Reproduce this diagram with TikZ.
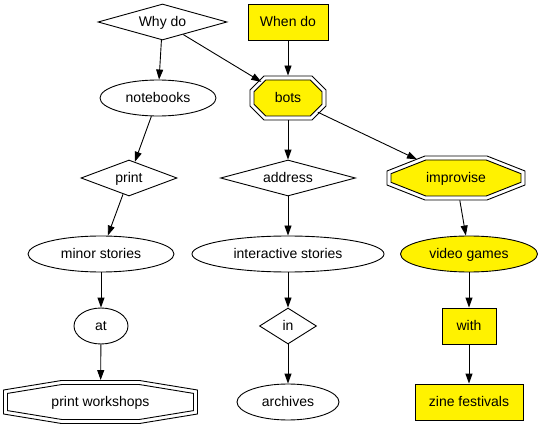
\documentclass[tikz,border=0pt]{standalone}
\usepackage{fontspec}
\setmainfont{Liberation Sans}
\usetikzlibrary{shapes.geometric,arrows.meta,backgrounds}
% #1 node, #2 half width, #3 half height, #4 top half, #5 side half, #6 inner top half, #7 inner side half, #8 fill
\newcommand\dbloct[8]{%
  \draw[octline, shift={(#1.center)}] (-#4,-#3) -- (#4,-#3) -- (#2,-#5) -- (#2,#5) -- (#4,#3) -- (-#4,#3) -- (-#2,#5) -- (-#2,-#5) -- cycle;
  \draw[octline, fill=#8, shift={(#1.center)}] (-#6,{-#3+4}) -- (#6,{-#3+4}) -- ({#2-4},-#7) -- ({#2-4},#7) -- (#6,{#3-4}) -- (-#6,{#3-4}) -- ({-#2+4},#7) -- ({-#2+4},-#7) -- cycle;
}
\begin{document}
\begin{tikzpicture}[x=1pt,y=-1pt,
  base/.style={font=\fontsize{14}{16}\selectfont, text height=10.5pt, text depth=2pt, inner sep=0pt, line width=0.9pt, minimum height=36pt},
  ell/.style={base, ellipse, draw},
  dia/.style={base, diamond, draw},
  box/.style={base, rectangle, draw},
  oct/.style={base, ellipse, draw=none},
  yel/.style={fill=yellow},
  edge/.style={line width=0.9pt, -{Triangle[length=10pt,width=7pt]}},
  octline/.style={line width=0.9pt}
]
\useasboundingbox (0,0) rectangle (542,428);
\node[dia, minimum width=129pt, aspect=3.58] (why) at (162.5,22) {Why do};
\node[box, yel, minimum width=80pt] (when) at (288,22) {When do};
\node[ell, minimum width=116pt] (notebooks) at (158,98) {notebooks};
\node[oct, minimum width=76pt, minimum height=44pt] (bots) at (288,98) {bots};
\node[dia, minimum width=96pt, aspect=2.67] (print) at (129,178) {print};
\node[dia, minimum width=135pt, aspect=3.75] (address) at (288,178) {address};
\node[oct, minimum width=138pt, minimum height=44pt] (improvise) at (456,178) {improvise};
\node[ell, minimum width=146pt] (minor) at (101,254) {minor stories};
\node[ell, minimum width=192pt] (interactive) at (288,254) {interactive stories};
\node[ell, yel, minimum width=137pt] (video) at (469,254) {video games};
\node[ell, minimum width=54pt] (at) at (101,326) {at};
\node[dia, minimum width=57pt, aspect=1.58] (in) at (288,326) {in};
\node[box, yel, minimum width=54pt] (with) at (469,326) {with};
\node[oct, minimum width=194pt, minimum height=43pt] (workshops) at (100.5,402) {print workshops};
\node[ell, minimum width=102pt] (archives) at (288,402) {archives};
\node[box, yel, minimum width=108pt] (zine) at (469,402) {zine festivals};
\begin{scope}[on background layer]
  \fill[white] (0,0) rectangle (542,428);
  \dbloct{bots}{38}{22}{24}{8}{22.3}{6.3}{yellow}
  \dbloct{improvise}{69}{22}{31}{7}{30.2}{4.3}{yellow}
  \dbloct{workshops}{97}{21.5}{39}{12}{38.7}{8.6}{white}
\end{scope}
\draw[edge] (why) -- (notebooks);
\draw[edge] (why) -- (bots);
\draw[edge] (when) -- (bots);
\draw[edge] (notebooks) -- (print);
\draw[edge] (bots) -- (address);
\draw[edge] (bots) -- (improvise);
\draw[edge] (print) -- (minor);
\draw[edge] (address) -- (interactive);
\draw[edge] (improvise) -- (video);
\draw[edge] (minor) -- (at);
\draw[edge] (interactive) -- (in);
\draw[edge] (video) -- (with);
\draw[edge] (at) -- (workshops);
\draw[edge] (in) -- (archives);
\draw[edge] (with) -- (zine);
\end{tikzpicture}
\end{document}
